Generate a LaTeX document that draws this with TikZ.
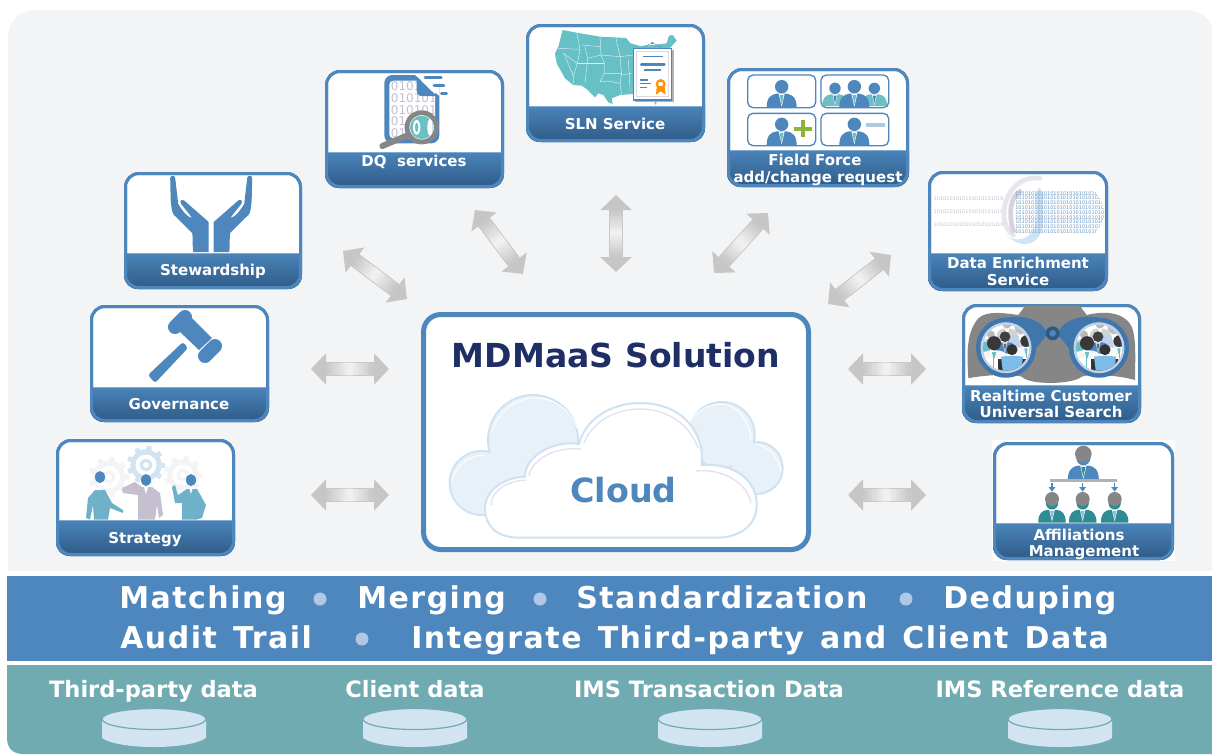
\documentclass[tikz,border=0pt]{standalone}
\usepackage{fontspec}
\setmainfont{DejaVu Sans}
\newfontfamily\spaced{DejaVu Sans}[LetterSpace=5,WordSpace=1.35]
\usetikzlibrary{arrows.meta,calc}
\definecolor{bgc}{HTML}{F3F4F6}
\definecolor{mainblue}{HTML}{4E87BD}
\definecolor{tealband}{HTML}{70ABB2}
\definecolor{barA}{HTML}{4A84BA}
\definecolor{barB}{HTML}{2E5A86}
\definecolor{navy}{HTML}{1F2F66}
\definecolor{bull}{HTML}{B0C7E5}
\definecolor{dbc}{HTML}{D2E3F2}
\definecolor{arrowdark}{HTML}{C6C6C6}
\definecolor{arrowlite}{HTML}{F2F3F2}
\definecolor{mapc}{HTML}{66C0C6}
\definecolor{tealp}{HTML}{6CC0C4}
\definecolor{lilac}{HTML}{C5BFD0}
\definecolor{persb}{HTML}{6FB1C9}
\definecolor{frontb}{HTML}{7EBDE8}
\definecolor{cloudl}{HTML}{CFE2F2}
\definecolor{cloudf}{HTML}{E8F0F8}
\definecolor{cloudh}{HTML}{E3E0F0}
\definecolor{darkteal}{HTML}{2E8C94}
\definecolor{binoc}{HTML}{3F76AB}
\definecolor{plusc}{HTML}{8DB33A}
\tikzset{
  x=0.75pt,y=-0.75pt,
  cardbox/.style={draw=mainblue,fill=white,line width=2.25pt,rounded corners=10pt,inner sep=0pt},
  cardtext/.style={text=white,anchor=base,inner sep=0pt,font=\fontsize{11.25pt}{12pt}\selectfont\bfseries},
  bandtext/.style={text=white,anchor=base west,inner sep=0pt,font=\fontsize{22.5pt}{24pt}\selectfont\bfseries\spaced},
  datatext/.style={text=white,anchor=base,inner sep=0pt,font=\fontsize{16.9pt}{18pt}\selectfont\bfseries},
  arrowbase/.style={draw=arrowdark,line width=10.9pt,{Triangle[length=11.25pt,width=23pt,fill=arrowdark]}-{Triangle[length=11.25pt,width=23pt,fill=arrowdark]}},
}
\newcommand\cardicon[6]{% name x y w h bartop
  \node[cardbox,minimum width={(#4-3)*0.75pt},minimum height={(#5-3)*0.75pt}] (#1) at ({#2+#4/2},{#3+#5/2}) {};
  \begin{scope}
    \clip[rounded corners=10pt] (#2,#3) rectangle ({#2+#4},{#3+#5});
    \shade[top color=barA,bottom color=barB] (#2,#6) rectangle ({#2+#4},{#3+#5});
    \draw[line width=0.6pt,draw=mainblue!70!white] (#2,#6) -- ({#2+#4},#6);
  \end{scope}
  \draw[draw=mainblue,line width=2.25pt,rounded corners=10pt] ({#2+1.5},{#3+1.5}) rectangle ({#2+#4-1.5},{#3+#5-1.5});
}
\newcommand\biarrow[2]{%
  \draw[arrowbase] (#1) -- (#2);
  \foreach \i in {0,...,15}{
    \pgfmathsetmacro\fa{0.19+0.62*\i/16}
    \pgfmathsetmacro\fb{0.19+0.62*(\i+1.2)/16}
    \pgfmathsetmacro\mixv{min(100,100*abs(2*(\fa+0.02)-1)/0.62)}
    \draw[line width=9.5pt,draw=arrowdark!\mixv!arrowlite] ($(#1)!\fa!(#2)$) -- ($(#1)!\fb!(#2)$);
  }
}
\newcommand\bust[6]{% x y scale body head tie
  \begin{scope}[shift={(#1,#2)},scale=#3]
    \fill[#4] (-15,21) .. controls (-15,11) and (-11,8) .. (-5,7) -- (5,7) .. controls (11,8) and (15,11) .. (15,21) -- cycle;
    \fill[white] (-3,7) -- (3,7) -- (0,20) -- cycle;
    \fill[#6] (-2,8.5) -- (2,8.5) -- (0,18) -- cycle;
    \fill[#5] (0,0) circle (6.7);
  \end{scope}
}
\newcommand\gearicon[4]{% x y r colour
  \foreach \a in {0,40,...,320}{
    \draw[#4,line width={#3*0.22pt}] ($(#1,#2)+(\a:{#3*0.75})$) -- ($(#1,#2)+(\a:{#3*1.12})$);
  }
  \fill[#4] (#1,#2) circle ({#3*0.92});
  \fill[white] (#1,#2) circle ({#3*0.62});
  \fill[#4] (#1,#2) circle ({#3*0.36});
  \fill[white] (#1,#2) circle ({#3*0.17});
}
\newcommand\lensicon[2]{%
  \fill[binoc] (#1,#2) circle (30);
  \fill[bull!80!white] (#1,#2) circle (25.5);
  \fill[white] (#1,#2) circle (23);
  \begin{scope}
    \clip (#1,#2) circle (23);
    \begin{scope}[shift={(#1,#2)}]
      \bust{-15}{-13}{0.6}{gray!35}{gray!55}{white}
      \bust{1}{-24}{0.7}{gray!35}{gray!55}{white}
      \bust{15}{-20}{0.95}{bull!80!white}{gray!50}{white}
      \bust{-1}{-11}{0.8}{mainblue}{black!75}{black!60}
      \fill[tealp] (-24,-6) rectangle (-16,8);
      \bust{-12}{-4.5}{1.05}{white!94!gray}{black!78}{tealp}
      \fill[white] (-20,10) rectangle (-6,25);
      \draw[tealp,line width=0.6pt] (-13,5) -- (-13,24);
      \bust{20}{-6.5}{0.85}{white!94!gray}{black!78}{tealp}
      \fill[white] (13,6) rectangle (24,25);
      \draw[tealp,line width=0.5pt] (20,3) -- (20,24);
      \fill[black!80] (-8,11) rectangle (20,25);
      \fill[frontb] (-5,9) .. controls (0,8) and (12,8) .. (17,9) -- (15,25) -- (-3,25) -- cycle;
      \fill[black!80] (6,2) circle (5.5);
    \end{scope}
  \end{scope}
}
\newcommand\dbicon[1]{%
  \fill[dbc] ({#1-52},720) -- ({#1-52},738) .. controls ({#1-35},750) and ({#1+35},750) .. ({#1+52},738) -- ({#1+52},720) -- cycle;
  \draw[tealband,fill=dbc,line width=0.9pt] (#1,719) ellipse (52 and 10.5);
}
\begin{document}
\begin{tikzpicture}
\useasboundingbox (0,0) rectangle (1212,754);
\fill[white] (0,0) rectangle (1212,754);
% panels
\begin{scope}
  \clip (0,0) rectangle (1212,754);
  \fill[bgc,rounded corners=20pt] (8,10) rectangle (1214,600);
  \fill[white] (0,570.5) rectangle (1212,600);
  \fill[mainblue] (7,575.5) rectangle (1212,661);
  \fill[tealband] (7,665) -- (7,738) .. controls (7,748) and (13,754) .. (23,754) -- (1212,754) -- (1212,665) -- cycle;
\end{scope}

% ---------- cards ----------
\cardicon{stew}{124}{172}{178}{117}{253}
\cardicon{gov}{90}{305}{179}{117}{387}
\cardicon{strat}{56}{439}{179}{117}{520}
\cardicon{dq}{325}{70}{179}{118}{152}
\cardicon{sln}{526}{24}{179}{118}{106}
\cardicon{field}{727}{68}{182}{119}{150}
\cardicon{enrich}{928}{171}{180}{120}{253}
\cardicon{search}{962}{304}{179}{119}{385}
\fill[white] (992,440) rectangle (1175,561);
\cardicon{affil}{993}{442}{181}{118}{523}

% ---------- Stewardship: hands ----------
\foreach \sc in {1,-1}{
\begin{scope}[shift={(211.2,0)},xscale=\sc]
  \fill[mainblue] (-2.5,252) -- (-2.5,222) -- (-27,200.5) .. controls (-30,199) and (-32,201) .. (-30,204) -- (-19,218) .. controls (-24,217) and (-28,212) .. (-33,204) -- (-36,178) .. controls (-36.5,175) and (-40.5,175) .. (-41,178) -- (-40.5,200) .. controls (-39.5,212) and (-38.5,215) .. (-35,217) -- (-19,233) .. controls (-18,238) and (-19,246) .. (-18,252) -- cycle;
\end{scope}
}
% ---------- Governance: gavel ----------
\fill[mainblue,rounded corners=2pt] (148,375) -- (183,342) -- (188,348) -- (155,383) -- cycle;
\fill[mainblue] (179,331) -- (192,318) -- (212,338) -- (199,350) -- cycle;
\draw[mainblue,line width=10.5pt,line cap=round] (175,327) -- (185,317);
\draw[mainblue,line width=10.5pt,line cap=round] (205,356) -- (215,346);

% ---------- Strategy ----------
\gearicon{109}{477}{18}{bgc}
\gearicon{183}{475}{17}{bgc}
\gearicon{146}{465}{17}{dbc}
\fill[persb] (86,518) -- (88,498) -- (95,490) -- (105,490) -- (112,503) -- (123,510) -- (123,513) -- (110,508) -- (108,519.5) -- (94,519.5) -- (93,505) -- (90,519.5) -- cycle;
\fill[lilac] (138,519.5) -- (138,495) -- (123,493) -- (122,488) -- (135,482) -- (142,487) -- (152,487) -- (160,493) -- (163,515) -- (159,518) -- (157,505) -- (155,519.5) -- cycle;
\fill[persb] (182,519.5) -- (182,503) -- (175,503) -- (172,487) -- (175,485) -- (178,495) -- (187,489) -- (197,489) -- (206,505) -- (202,518) -- (197,519.5) -- cycle;
\foreach \px/\py in {100/477,146/480,191/480}{
  \fill[mainblue] (\px,\py) ellipse (5 and 6);
  \fill[white] ({\px-2},{\py+7}) -- ({\px+2},{\py+7}) -- (\px,{\py+14}) -- cycle;
}

% ---------- DQ icon ----------
\begin{scope}[shift={(320,10)},scale=1/3]
  \fill[mainblue,rounded corners=6pt] (193,195) rectangle (358,400);
  \fill[white,rounded corners=3pt] (208,212) rectangle (345,385);
  \begin{scope}
    \clip (208,212) rectangle (345,385);
    \foreach \ty/\tx in {242/0101,277/010101,312/010101,347/0101,382/01}{
      \node[anchor=base west,inner sep=0pt,text=lilac,font=\fontsize{9pt}{9pt}\selectfont] at (212,\ty) {\tx};
    }
  \end{scope}
  \fill[white] (285,195) -- (358,258) -- (358,195) -- cycle;
  \fill[mainblue] (290,200) -- (350,258) -- (305,258) .. controls (295,258) and (290,250) .. (290,240) -- cycle;
  \draw[mainblue,line width=1.9pt,line cap=round] (315,202) -- (364,202);
  \draw[mainblue,line width=1.9pt,line cap=round] (342,227) -- (372,227);
  \draw[mainblue,line width=1.9pt,line cap=round] (364,250) -- (380,250);
  \draw[gray!95,line width=4.5pt,line cap=round] (187,408) -- (265,375);
  \fill[white] (305,352) circle (45);
  \fill[tealp] (305,352) circle (35);
  \fill[white] (290,352) ellipse (11 and 22);
  \fill[white] (330,352) ellipse (8 and 25);
  \fill[tealp] (290,352) ellipse (5 and 14);
  \draw[gray!95,line width=3.6pt] (305,352) circle (44);
\end{scope}

% ---------- SLN icon ----------
\begin{scope}[shift={(540,20)},scale=1/3]
  \fill[mapc] (68,30) -- (110,38) -- (180,50) -- (258,54) -- (272,70) -- (300,78) -- (340,75) -- (380,70) -- (387,47) -- (398,45) -- (410,62) -- (398,75) -- (385,90) -- (380,200) -- (350,240) -- (348,256) -- (340,240) -- (280,222) -- (240,225) -- (215,235) -- (218,252) -- (205,247) -- (190,225) -- (175,220) -- (165,232) -- (140,207) -- (125,197) -- (100,195) -- (75,175) -- (50,130) -- (45,100) -- (55,80) -- cycle;
  \tikzset{stline/.style={white!75!mapc,line width=0.35pt}}
  \draw[stline] (110,38) -- (120,88) -- (112,130) -- (100,168);
  \draw[stline] (70,100) -- (112,130);
  \draw[stline] (55,85) -- (120,88);
  \draw[stline] (72,100) -- (100,168) -- (100,190);
  \draw[stline] (180,50) -- (183,105) -- (193,130) -- (192,160) -- (180,185);
  \draw[stline] (125,75) -- (180,80);
  \draw[stline] (112,130) -- (193,130);
  \draw[stline] (143,115) -- (135,190);
  \draw[stline] (135,80) -- (143,115) -- (183,105) -- (240,110);
  \draw[stline] (228,55) -- (240,110) -- (245,165) -- (275,160);
  \draw[stline] (192,160) -- (245,160) -- (240,190) -- (245,225);
  \draw[stline] (180,185) -- (205,183) -- (240,190);
  \draw[stline] (240,110) -- (280,105);
  \draw[stline] (265,120) -- (270,200) -- (270,222);
  \draw[mainblue,line width=0.3pt] (310,82) -- (337,68) -- (365,82);
  \fill[mainblue] (337,69) circle (4);
  \fill[gray!60] (286,91) rectangle (401,246);
  \draw[mainblue,fill=white,line width=1.1pt] (280,85) rectangle (395,240);
  \draw[lilac!60,line width=0.5pt] (290,95) rectangle (385,230);
  \draw[mainblue,line width=1pt] (308,110) -- (368,110);
  \draw[mainblue,line width=2pt,line cap=round] (304,133) -- (373,133);
  \draw[mainblue,line width=1pt] (312,150) -- (362,150);
  \draw[mainblue,line width=1pt] (300,180) -- (325,180);
  \draw[mainblue,line width=1pt] (300,191) -- (333,191);
  \draw[mainblue,line width=1pt] (300,203) -- (320,203);
  \fill[orange!85!yellow] (350,200) -- (348,224) -- (362,214) -- (377,224) -- (374,200) -- cycle;
  \fill[orange!85!yellow] (362,192) circle (15);
  \fill[bgc] (362,192) ellipse (8 and 6);
\end{scope}

% ---------- Field Force icon ----------
\begin{scope}[shift={(720,60)},scale=1/3]
  \foreach \xa/\ya/\xb/\yb in {83/45/287/143,303/45/506/143,83/160/287/257,303/160/506/257}{
    \draw[mainblue,line width=1pt,rounded corners=4pt] (\xa,\ya) rectangle (\xb,\yb);
  }
  \begin{scope}
    \clip (83,45) rectangle (506,257);
    \bust{185}{80}{3}{mainblue}{mainblue}{tealp}
    \bust{345}{85}{2.55}{tealp}{mainblue}{mainblue}
    \bust{463}{85}{2.55}{tealp}{mainblue}{mainblue}
    \bust{403}{80}{3}{mainblue}{mainblue}{tealp}
    \bust{185}{193}{3}{mainblue}{mainblue}{tealp}
    \bust{403}{193}{3}{mainblue}{mainblue}{tealp}
  \end{scope}
  \draw[plusc,line width=3pt] (221,207) -- (276,207);
  \draw[plusc,line width=3pt] (248,180) -- (248,232);
  \draw[bull,line width=2.4pt] (437,195) -- (495,195);
\end{scope}

% ---------- Data enrichment icon ----------
\begin{scope}[shift={(720,60)},scale=1/3]
  \foreach \ty in {415,455,495}{
    \node[anchor=west,inner sep=0pt,text=lilac,font=\fontsize{3.75pt}{4pt}\selectfont] at (640,\ty) {1010101010101010101010};
  }
  \draw[lilac!40,line width=3.6pt,line cap=round] (960,355) .. controls (890,345) and (850,410) .. (852,465) .. controls (852,490) and (860,510) .. (880,525);
  \draw[lilac!70,line width=3.5pt] (905,392) .. controls (860,410) and (870,490) .. (882,518);
  \fill[dbc] (946,402) -- (958,382) -- (970,402) -- (968,500) .. controls (960,545) and (920,575) .. (862,530) .. controls (910,555) and (950,520) .. (950,470) -- cycle;
  \begin{scope}
    \clip (885,390) -- (1118,390) .. controls (1135,400) and (1150,440) .. (1152,458) .. controls (1150,480) and (1135,510) .. (1118,523) -- (885,523) -- cycle;
    \foreach \ty in {400,414,428,443,458,472,486,500,515}{
      \node[anchor=west,inner sep=0pt,text=mainblue!85,font=\fontsize{3.75pt}{4pt}\selectfont] at (885,\ty) {10101010101010101010101010101010};
    }
  \end{scope}
\end{scope}

% ---------- Binoculars ----------
\begin{scope}[shift={(950,295)},scale=1/3]
  \fill[gray!95] (55,250) .. controls (50,170) and (50,110) .. (85,70) .. controls (110,45) and (170,55) .. (205,60) -- (225,33) -- (390,33) -- (410,60) .. controls (450,50) and (520,45) .. (545,95) .. controls (560,130) and (555,200) .. (555,255) .. controls (500,240) and (420,235) .. (395,245) .. controls (370,268) and (240,272) .. (215,245) .. controls (190,235) and (100,240) .. (55,250) -- cycle;
  \fill[binoc] (168,68) .. controls (230,55) and (290,85) .. (290,120) -- (250,170) -- (200,160) -- cycle;
  \fill[binoc] (447,68) .. controls (385,55) and (325,85) .. (325,120) -- (365,170) -- (415,160) -- cycle;
  \fill[barB] (308,115) circle (21);
  \fill[mainblue] (308,115) circle (10);
\end{scope}
\lensicon{1006}{347.7}
\lensicon{1099}{347.7}

% ---------- Affiliations icon ----------
\begin{scope}[shift={(950,295)},scale=1/3]
  \bust{400}{490}{3.1}{mainblue}{mainblue}{darkteal}
  \fill[gray!95] (400,477) circle (25);
  \fill[gray!60] (300,553) rectangle (500,560);
  \foreach \ax in {306,398,494}{
    \draw[mainblue,line width=1pt,-{Triangle[length=3.5pt,width=5pt]}] (\ax,565) -- (\ax,590);
    \bust{\ax}{625}{2.75}{darkteal}{darkteal}{mainblue!60!white}
    \fill[gray!95] (\ax,612) circle (21);
  }
\end{scope}

% ---------- card labels ----------
\node[cardtext] (l1) at (213,275) {Stewardship};
\node[cardtext] (l2) at (179,409) {Governance};
\node[cardtext] (l3) at (145,543) {Strategy};
\node[cardtext] (l4) at (414,166) {DQ\ \ services};
\node[cardtext] (l5) at (615,129) {SLN Service};
\node[cardtext] (l6) at (815,165) {Field Force};
\node[cardtext] (l7) at (818,182) {add/change request};
\node[cardtext] (l8) at (1018,268) {Data Enrichment};
\node[cardtext] (l9) at (1018,285.7) {Service};
\node[cardtext] (l10) at (1051,401) {Realtime Customer};
\node[cardtext] (l11) at (1051,417.7) {Universal Search};
\node[cardtext] (l12) at (1079,540) {Affiliations};
\node[cardtext] (l13) at (1084,556) {Management};

% ---------- central box ----------
\node[draw=mainblue,fill=white,line width=3.75pt,rounded corners=13pt,minimum width={385*0.75pt},minimum height={235*0.75pt},inner sep=0pt] (core) at (616,432) {};
% back cloud
\begin{scope}
  \fill[cloudl] (533,440) circle (46) (481.7,483) circle (33) (721.7,435) circle (34) (756.7,468) circle (27);
  \fill[cloudf] (533,440) circle (44) (481.7,483) circle (31) (721.7,435) circle (32) (756.7,468) circle (25);
  \draw[white,line width=0.7pt] (492,432) .. controls (498,412) and (515,398) .. (535,398) .. controls (555,398) and (570,410) .. (577,428);
  \draw[white,line width=0.7pt] (452,482) .. controls (453,470) and (465,456) .. (484,455);
  \draw[white,line width=0.7pt] (690,425) .. controls (695,408) and (715,402) .. (728,405) .. controls (742,410) and (750,425) .. (751,440);
  \draw[white,line width=0.7pt] (755,444) .. controls (770,446) and (780,460) .. (781,472);
\end{scope}
% front cloud
\draw[cloudl,fill=white,line width=1.5pt] (520,537.7) .. controls (495,537.7) and (485,525) .. (485,508) .. controls (485,490) and (505,477) .. (525,476.7) .. controls (525,455) and (555,440) .. (579,444) .. controls (585,420) and (610,403) .. (640,403) .. controls (680,403) and (705,430) .. (701.7,465) .. controls (735,463) and (756.7,480) .. (756.7,505) .. controls (756.7,525) and (740,537.7) .. (716.7,537.7) -- cycle;
\draw[cloudh,line width=1pt] (491,505) .. controls (492,490) and (507,481) .. (526,480);
\draw[cloudh,line width=1pt] (529,476) .. controls (531,460) and (555,446) .. (581,449);
\draw[cloudh,line width=1pt] (584,443) .. controls (592,422) and (615,409) .. (640,409) .. controls (668,409) and (690,425) .. (698,448);
\draw[cloudh,line width=1pt] (696,471) .. controls (725,468) and (748,485) .. (751,503);
\node[anchor=base,inner sep=0pt,text=navy,font=\fontsize{24.8pt}{26pt}\selectfont\bfseries] (ttl) at (616,367) {MDMaaS Solution};
\node[anchor=base,inner sep=0pt,text=mainblue,font=\fontsize{25pt}{26pt}\selectfont\bfseries] (cld) at (623.5,502) {Cloud};

% ---------- arrows ----------
\coordinate (a1s) at (343,251); \coordinate (a1e) at (407,299);
\coordinate (a2s) at (475,210); \coordinate (a2e) at (523,274);
\coordinate (a3s) at (616,195); \coordinate (a3e) at (616,272);
\coordinate (a4s) at (768,213); \coordinate (a4e) at (714,273);
\coordinate (a5s) at (891,255); \coordinate (a5e) at (828,304);
\coordinate (a6s) at (848,369); \coordinate (a6e) at (926,369);
\coordinate (a7s) at (848,495); \coordinate (a7e) at (926,495);
\coordinate (a8s) at (311,369); \coordinate (a8e) at (389,369);
\coordinate (a9s) at (311,495); \coordinate (a9e) at (389,495);
\biarrow{a1s}{a1e}
\biarrow{a2s}{a2e}
\biarrow{a3s}{a3e}
\biarrow{a4s}{a4e}
\biarrow{a5s}{a5e}
\biarrow{a6s}{a6e}
\biarrow{a7s}{a7e}
\biarrow{a8s}{a8e}
\biarrow{a9s}{a9e}

% ---------- band ----------
\node[bandtext] (b1) at (119,608) {Matching};
\node[bandtext] (b2) at (357,608) {Merging};
\node[bandtext] (b3) at (576,608) {Standardization};
\node[bandtext] (b4) at (943,608) {Deduping};
\node[bandtext] (b5) at (120,648) {Audit Trail};
\node[bandtext] (b6) at (411,648) {Integrate Third-party and Client Data};
\foreach \bx/\by in {320/599,540/599,906/599,362/639}{
  \fill[bull] (\bx,\by) circle (6.5);
}
% ---------- data row ----------
\node[datatext] (d1) at (153.5,697) {Third-party data};
\node[datatext] (d2) at (415,697) {Client data};
\node[datatext] (d3) at (709,697) {IMS Transaction Data};
\node[datatext] (d4) at (1060,697) {IMS Reference data};
\dbicon{154}
\dbicon{415}
\dbicon{710}
\dbicon{1060}
\end{tikzpicture}
\end{document}
